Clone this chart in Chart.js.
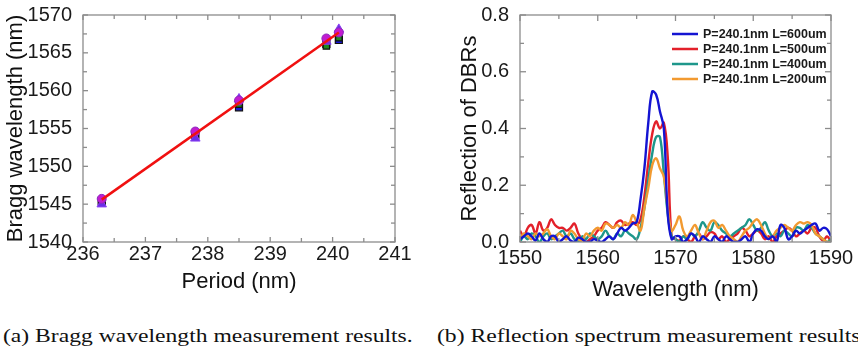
<!DOCTYPE html>
<html>
<head>
<meta charset="utf-8">
<script src="https://cdn.jsdelivr.net/npm/chart.js@4.4.1/dist/chart.umd.min.js"></script>
<style>
  html, body { margin: 0; padding: 0; background: #fff; }
  body { width: 858px; height: 356px; position: relative; overflow: hidden; }
  #wrapA { position: absolute; left: 0; top: 0; }
  #wrapB { position: absolute; left: 430px; top: 0; }
  .caption {
    position: absolute; top: 325px; white-space: nowrap;
    font-family: "Liberation Serif", "DejaVu Serif", serif; font-size: 19px; color: #111;
    transform-origin: 0 0;
  }
  #capA { left: 3px; }
  #capB { left: 437px; }
</style>
</head>
<body>
<div id="wrapA"><canvas id="braggChart" width="430" height="300"></canvas></div>
<div id="wrapB"><canvas id="reflChart" width="428" height="303"></canvas></div>
<div class="caption" id="capA">(a) Bragg wavelength measurement results.</div>
<div class="caption" id="capB">(b) Reflection spectrum measurement results.</div>

<script>
// ---- data: (a) Bragg wavelength vs period ----
const periods = [236.3, 237.8, 238.5, 239.9, 240.1];
const braggSquareBlue = [1545.4, 1554.2, 1557.8, 1566.2, 1566.7];
const braggSquareGreen = [1545.2, 1554.0, 1558.2, 1565.9, 1567.0];
const braggTriangle = [1545.0, 1553.7, 1558.9, 1566.5, 1568.1];
const braggCircle = [1545.7, 1554.6, 1558.7, 1566.9, 1567.7];
const fitPeriods = [236.3, 240.1];
const fitBragg = [1545.6, 1567.7];
const periodTicks = [236, 237, 238, 239, 240, 241];
const braggTicks = [1540, 1545, 1550, 1555, 1560, 1565, 1570];

// ---- data: (b) reflection spectra, 0.5 nm steps ----
const wavelength = [
  1550, 1550.5, 1551, 1551.5, 1552, 1552.5, 1553, 1553.5, 1554, 1554.5,
  1555, 1555.5, 1556, 1556.5, 1557, 1557.5, 1558, 1558.5, 1559, 1559.5,
  1560, 1560.5, 1561, 1561.5, 1562, 1562.5, 1563, 1563.5, 1564, 1564.5,
  1565, 1565.5, 1566, 1566.5, 1567, 1567.5, 1568, 1568.5, 1569, 1569.5,
  1570, 1570.5, 1571, 1571.5, 1572, 1572.5, 1573, 1573.5, 1574, 1574.5,
  1575, 1575.5, 1576, 1576.5, 1577, 1577.5, 1578, 1578.5, 1579, 1579.5,
  1580, 1580.5, 1581, 1581.5, 1582, 1582.5, 1583, 1583.5, 1584, 1584.5,
  1585, 1585.5, 1586, 1586.5, 1587, 1587.5, 1588, 1588.5, 1589, 1589.5, 1590
];
const refl600 = [
  0.01, 0.02, 0.03, 0.02, 0.005, 0.03, 0.01, 0.0, 0.02, 0.02,
  0.0, 0.01, 0.02, 0.005, 0.0, 0.015, 0.01, 0.0, 0.0, 0.01,
  0.005, 0.0, 0.01, 0.02, 0.01, 0.03, 0.05, 0.04, 0.05, 0.065,
  0.07, 0.15, 0.26, 0.42, 0.53, 0.52, 0.46, 0.40, 0.10, 0.01,
  0.02, 0.02, 0.0, 0.01, 0.03, 0.02, 0.0, 0.02, 0.01, 0.0,
  0.02, 0.01, 0.0, 0.02, 0.01, 0.0, 0.0, 0.01, 0.02, 0.0,
  0.03, 0.045, 0.04, 0.02, 0.01, 0.02, 0.0, 0.06, 0.05, 0.01,
  0.02, 0.04, 0.03, 0.04, 0.05, 0.06, 0.065, 0.04, 0.05, 0.045, 0.02
];
const refl500 = [
  0.04, 0.02, 0.05, 0.06, 0.03, 0.07, 0.04, 0.05, 0.08, 0.06,
  0.05, 0.05, 0.04, 0.05, 0.065, 0.03, 0.01, 0.0, 0.01, 0.02,
  0.04, 0.05, 0.07, 0.06, 0.05, 0.07, 0.075, 0.06, 0.065, 0.07,
  0.06, 0.08, 0.16, 0.28, 0.38, 0.425, 0.40, 0.42, 0.30, 0.02,
  0.01, 0.005, 0.02, 0.01, 0.0, 0.02, 0.03, 0.01, 0.02, 0.035,
  0.03, 0.01, 0.02, 0.0, 0.01, 0.02, 0.03, 0.05, 0.04, 0.02,
  0.03, 0.04, 0.03, 0.01, 0.02, 0.0, 0.02, 0.03, 0.04, 0.05,
  0.04, 0.02, 0.03, 0.04, 0.03, 0.05, 0.05, 0.02, 0.005, 0.02, 0.0
];
const refl400 = [
  0.0, 0.02, 0.01, 0.03, 0.02, 0.0, 0.02, 0.03, 0.01, 0.02,
  0.03, 0.04, 0.02, 0.03, 0.01, 0.0, 0.02, 0.01, 0.03, 0.02,
  0.01, 0.02, 0.04, 0.02, 0.01, 0.03, 0.02, 0.04, 0.03, 0.02,
  0.01, 0.05, 0.12, 0.22, 0.31, 0.37, 0.37, 0.24, 0.10, 0.02,
  0.01, 0.0, 0.02, 0.01, 0.03, 0.02, 0.04, 0.07, 0.05, 0.04,
  0.07, 0.06, 0.04, 0.03, 0.02, 0.03, 0.04, 0.05, 0.06, 0.08,
  0.06, 0.04, 0.05, 0.07, 0.04, 0.02, 0.03, 0.02, 0.04, 0.03,
  0.02, 0.05, 0.05, 0.04, 0.06, 0.05, 0.03, 0.02, 0.01, 0.0, 0.01
];
const refl200 = [
  0.01, 0.03, 0.02, 0.01, 0.03, 0.02, 0.03, 0.045, 0.02, 0.01,
  0.03, 0.02, 0.01, 0.04, 0.03, 0.01, 0.005, 0.03, 0.02, 0.04,
  0.05, 0.04, 0.065, 0.06, 0.05, 0.06, 0.05, 0.07, 0.06, 0.095,
  0.07, 0.04, 0.12, 0.19, 0.27, 0.295, 0.26, 0.23, 0.12, 0.04,
  0.06, 0.09, 0.04, 0.02, 0.04, 0.06, 0.03, 0.01, 0.04, 0.07,
  0.075, 0.05, 0.06, 0.04, 0.02, 0.01, 0.0, 0.02, 0.04, 0.05,
  0.07, 0.08, 0.06, 0.03, 0.01, 0.02, 0.04, 0.05, 0.06, 0.05,
  0.04, 0.06, 0.07, 0.065, 0.07, 0.06, 0.03, 0.02, 0.01, 0.0, 0.0
];
const spectrumLabels = [
  'P=240.1nm L=600um', 'P=240.1nm L=500um', 'P=240.1nm L=400um', 'P=240.1nm L=200um'
];
const wavelengthTicks = [1550, 1560, 1570, 1580, 1590];
const reflTicks = [0, 0.2, 0.4, 0.6, 0.8];

const FONT = '"Liberation Sans", Arial, sans-serif';
Chart.defaults.font.family = FONT;
Chart.defaults.color = '#1a1a1a';

const pairs = (xs, ys) => xs.map((x, i) => ({ x: x, y: ys[i] }));

// box around the plot with inward ticks (major + minor), matlab style
const boxTicks = {
  id: 'boxTicks',
  afterDatasetsDraw(chart, args, opts) {
    const { ctx, chartArea: a, scales } = chart;
    ctx.save();
    ctx.strokeStyle = '#8c8c8c';
    ctx.lineWidth = 1.3;
    ctx.strokeRect(a.left, a.top, a.right - a.left, a.bottom - a.top);
    const seg = (x1, y1, x2, y2) => { ctx.beginPath(); ctx.moveTo(x1, y1); ctx.lineTo(x2, y2); ctx.stroke(); };
    const marks = (scale, step) => {
      const out = [];
      const n = Math.round((scale.max - scale.min) / step);
      for (let i = 0; i <= n; i++) out.push(scale.min + i * step);
      return out;
    };
    marks(scales.x, opts.xMinor).forEach(v => {
      const p = scales.x.getPixelForValue(v);
      const len = scales.x.ticks.some(t => Math.abs(t.value - v) < 1e-9) ? opts.major : opts.minor;
      seg(p, a.bottom, p, a.bottom - len);
      seg(p, a.top, p, a.top + len);
    });
    marks(scales.y, opts.yMinor).forEach(v => {
      const p = scales.y.getPixelForValue(v);
      const len = scales.y.ticks.some(t => Math.abs(t.value - v) < 1e-9) ? opts.major : opts.minor;
      seg(a.left, p, a.left + len, p);
      seg(a.right, p, a.right - len, p);
    });
    ctx.restore();
  }
};

// legend drawn inside the plot, upper right
const insideLegend = {
  id: 'insideLegend',
  afterDraw(chart, args, opts) {
    const { ctx, chartArea: a } = chart;
    ctx.save();
    ctx.font = opts.font;
    ctx.textBaseline = 'middle';
    ctx.fillStyle = '#1a1a1a';
    chart.data.datasets.forEach((ds, i) => {
      const y = a.top + opts.top + i * opts.rowGap;
      ctx.strokeStyle = ds.borderColor;
      ctx.lineWidth = 2.5;
      ctx.beginPath();
      ctx.moveTo(a.right - opts.lineStart, y);
      ctx.lineTo(a.right - opts.lineStart + opts.lineLen, y);
      ctx.stroke();
      ctx.fillText(ds.label, a.right - opts.textStart, y + 1);
    });
    ctx.restore();
  }
};

const setTicks = list => scale => { scale.ticks = list.map(v => ({ value: v })); };

// ---- chart (a) ----
new Chart(document.getElementById('braggChart'), {
  type: 'scatter',
  data: {
    datasets: [
      {
        label: 'fit', data: pairs(fitPeriods, fitBragg), showLine: true,
        borderColor: '#f01010', borderWidth: 2.5, pointRadius: 0, order: 0
      },
      {
        label: 'sq blue', data: pairs(periods, braggSquareBlue), pointStyle: 'rect',
        pointRadius: 5, backgroundColor: '#1515d8', borderColor: '#111', borderWidth: 1.2, order: 4
      },
      {
        label: 'sq green', data: pairs(periods, braggSquareGreen), pointStyle: 'rect',
        pointRadius: 4.5, backgroundColor: '#1d8a1d', borderColor: '#111', borderWidth: 1.2, order: 3
      },
      {
        label: 'triangle', data: pairs(periods, braggTriangle), pointStyle: 'triangle',
        pointRadius: 5.5, backgroundColor: '#6a2ee8', borderColor: '#8a40f0', borderWidth: 1, order: 2
      },
      {
        label: 'circle', data: pairs(periods, braggCircle), pointStyle: 'circle',
        pointRadius: 4.5, backgroundColor: '#c21ccf', borderColor: '#8b2bc0', borderWidth: 1, order: 1
      }
    ]
  },
  options: {
    responsive: false,
    animation: false,
    devicePixelRatio: 1,
    layout: { padding: { left: 0, top: 15, right: 35, bottom: 0 } },
    plugins: {
      legend: { display: false },
      tooltip: { enabled: false },
      boxTicks: { xMinor: 0.5, yMinor: 2.5, major: 5, minor: 4 }
    },
    scales: {
      x: {
        type: 'linear', min: 236, max: 241,
        afterBuildTicks: setTicks(periodTicks),
        afterFit: s => { s.height = 58; },
        grid: { display: false }, border: { display: false },
        ticks: { padding: -8, font: { size: 20 }, callback: v => v },
        title: { display: true, text: 'Period (nm)', font: { size: 22 }, color: '#111', padding: { top: 0, bottom: 5 } }
      },
      y: {
        type: 'linear', min: 1540, max: 1570,
        afterBuildTicks: setTicks(braggTicks),
        afterFit: s => { s.width = 83; },
        grid: { display: false }, border: { display: false },
        ticks: { padding: 3, font: { size: 20 }, callback: v => v },
        title: { display: true, text: 'Bragg wavelength (nm)', font: { size: 22 }, color: '#111', padding: { top: 3, bottom: 0 } }
      }
    }
  },
  plugins: [boxTicks]
});

// ---- chart (b) ----
const spectrumColors = ['#1414d2', '#e3202a', '#1e978b', '#f29a30'];
const spectra = [refl600, refl500, refl400, refl200];

new Chart(document.getElementById('reflChart'), {
  type: 'line',
  data: {
    datasets: spectra.map((vals, i) => ({
      label: spectrumLabels[i],
      data: pairs(wavelength, vals),
      borderColor: spectrumColors[i],
      borderWidth: 2.4,
      pointRadius: 0,
      tension: 0.4,
      order: i === 0 ? 0 : 4 - i
    }))
  },
  options: {
    responsive: false,
    animation: false,
    devicePixelRatio: 1,
    layout: { padding: { left: 24, top: 13, right: 27, bottom: 0 } },
    plugins: {
      legend: { display: false },
      tooltip: { enabled: false },
      boxTicks: { xMinor: 5, yMinor: 0.1, major: 6, minor: 4 },
      insideLegend: {
        font: 'bold 12.5px ' + FONT, top: 19, rowGap: 15,
        lineStart: 159, lineLen: 26, textStart: 128
      }
    },
    scales: {
      x: {
        type: 'linear', min: 1550, max: 1590,
        afterBuildTicks: setTicks(wavelengthTicks),
        afterFit: s => { s.height = 61; },
        grid: { display: false }, border: { display: false },
        ticks: { padding: -4, font: { size: 20 }, callback: v => v },
        title: { display: true, text: 'Wavelength (nm)', font: { size: 22 }, color: '#111', padding: { top: 0, bottom: 0 } }
      },
      y: {
        type: 'linear', min: 0, max: 0.8,
        afterBuildTicks: setTicks(reflTicks),
        afterFit: s => { s.width = 66; },
        grid: { display: false }, border: { display: false },
        ticks: { padding: 3, font: { size: 20 }, callback: v => Number(v).toFixed(1) },
        title: { display: true, text: 'Reflection of DBRs', font: { size: 22 }, color: '#111', padding: { top: 3, bottom: 0 } }
      }
    }
  },
  plugins: [boxTicks, insideLegend]
});

// stretch captions to the width they have in the figure
const capA = document.getElementById('capA');
const capB = document.getElementById('capB');
const k = 410 / capA.offsetWidth;
capA.style.transform = 'scaleX(' + k + ')';
capB.style.transform = 'scaleX(' + k + ')';
</script>
</body>
</html>
